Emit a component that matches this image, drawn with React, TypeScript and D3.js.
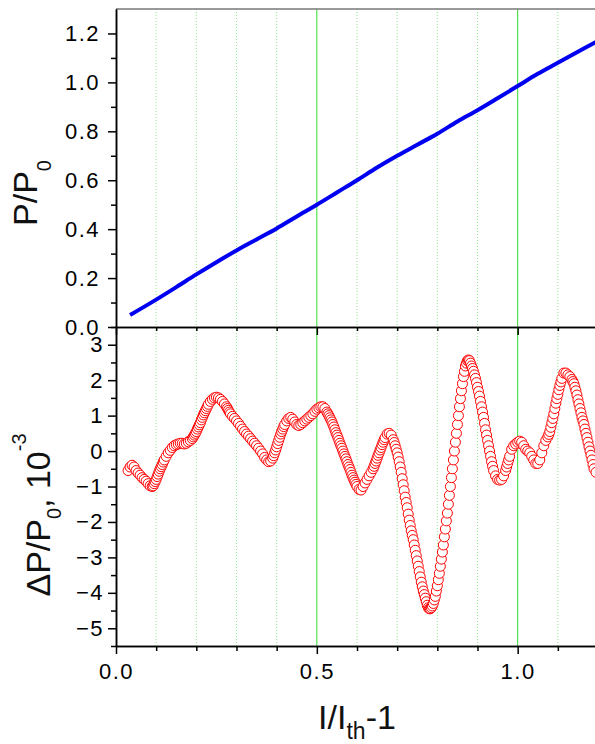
import React, { useEffect, useRef } from "react";
import * as d3 from "d3";

// top panel: P/P0 vs I/Ith-1
const powerX = [0.035, 0.1, 0.15, 0.2, 0.25, 0.3, 0.35, 0.4, 0.45, 0.5, 0.55, 0.6, 0.65, 0.7, 0.75, 0.8, 0.85, 0.9, 0.95, 1.0, 1.05, 1.1, 1.15, 1.2];
const powerY = [0.049, 0.112, 0.163, 0.215, 0.265, 0.313, 0.358, 0.403, 0.452, 0.5, 0.55, 0.6, 0.652, 0.7, 0.745, 0.79, 0.84, 0.886, 0.935, 0.985, 1.035, 1.08, 1.125, 1.17];

// bottom panel: dP/P0 in units of 1e-3, [I/Ith-1, value]
const deltaP: [number, number][] = [
  [0.030, -0.55], [0.035, -0.45], [0.040, -0.40], [0.045, -0.45], [0.050, -0.55], [0.055, -0.62],
  [0.060, -0.68], [0.065, -0.75], [0.070, -0.80], [0.075, -0.85], [0.080, -0.92], [0.085, -0.98],
  [0.090, -1.00], [0.0925, -0.98], [0.095, -0.92], [0.0975, -0.86], [0.100, -0.80], [0.1025, -0.72],
  [0.105, -0.65], [0.1075, -0.57], [0.110, -0.50], [0.1125, -0.44], [0.115, -0.38], [0.1175, -0.31],
  [0.120, -0.25], [0.125, -0.15], [0.130, -0.05], [0.135, 0.02], [0.140, 0.10], [0.145, 0.15],
  [0.150, 0.18], [0.155, 0.20], [0.160, 0.22], [0.165, 0.22], [0.170, 0.20], [0.175, 0.22],
  [0.180, 0.26], [0.185, 0.30], [0.190, 0.35], [0.1925, 0.40], [0.195, 0.45], [0.1975, 0.50],
  [0.200, 0.55], [0.2025, 0.62], [0.205, 0.68], [0.2075, 0.74], [0.210, 0.80], [0.2125, 0.88],
  [0.215, 0.95], [0.2175, 1.02], [0.220, 1.08], [0.2225, 1.14], [0.225, 1.20], [0.2275, 1.26],
  [0.230, 1.32], [0.235, 1.40], [0.240, 1.46], [0.245, 1.50], [0.250, 1.52], [0.255, 1.50],
  [0.260, 1.46], [0.265, 1.40], [0.270, 1.33], [0.275, 1.25], [0.2775, 1.20], [0.280, 1.15],
  [0.2825, 1.10], [0.285, 1.05], [0.290, 0.98], [0.295, 0.92], [0.300, 0.85], [0.305, 0.78],
  [0.310, 0.70], [0.315, 0.62], [0.320, 0.55], [0.325, 0.48], [0.330, 0.42], [0.335, 0.35],
  [0.340, 0.28], [0.345, 0.22], [0.350, 0.15], [0.355, 0.08], [0.360, 0.00], [0.365, -0.08],
  [0.370, -0.18], [0.375, -0.25], [0.380, -0.30], [0.385, -0.28], [0.390, -0.20], [0.3925, -0.13],
  [0.395, -0.05], [0.3975, 0.03], [0.400, 0.12], [0.4025, 0.21], [0.405, 0.30], [0.4075, 0.39],
  [0.410, 0.48], [0.4125, 0.55], [0.415, 0.62], [0.4175, 0.69], [0.420, 0.75], [0.425, 0.85],
  [0.430, 0.92], [0.435, 0.95], [0.440, 0.90], [0.445, 0.82], [0.450, 0.75], [0.455, 0.72],
  [0.460, 0.75], [0.465, 0.80], [0.470, 0.85], [0.475, 0.90], [0.480, 0.95], [0.485, 1.00],
  [0.490, 1.05], [0.495, 1.12], [0.500, 1.18], [0.505, 1.22], [0.510, 1.25], [0.515, 1.25],
  [0.520, 1.20], [0.525, 1.10], [0.5275, 1.05], [0.530, 1.00], [0.5325, 0.94], [0.535, 0.88],
  [0.5375, 0.82], [0.540, 0.75], [0.5425, 0.68], [0.545, 0.60], [0.5475, 0.52], [0.550, 0.45],
  [0.5525, 0.38], [0.555, 0.30], [0.5575, 0.22], [0.560, 0.15], [0.5625, 0.08], [0.565, 0.00],
  [0.5675, -0.08], [0.570, -0.15], [0.5725, -0.22], [0.575, -0.30], [0.5775, -0.38], [0.580, -0.45],
  [0.5825, -0.52], [0.585, -0.60], [0.5875, -0.68], [0.590, -0.75], [0.5925, -0.82], [0.595, -0.88],
  [0.5975, -0.94], [0.600, -1.00], [0.605, -1.08], [0.610, -1.10], [0.615, -1.00], [0.620, -0.90],
  [0.625, -0.80], [0.630, -0.70], [0.635, -0.60], [0.640, -0.50], [0.6425, -0.43], [0.645, -0.35],
  [0.6475, -0.28], [0.650, -0.20], [0.6525, -0.12], [0.655, -0.05], [0.6575, 0.03], [0.660, 0.10],
  [0.6625, 0.18], [0.665, 0.25], [0.6675, 0.32], [0.670, 0.38], [0.675, 0.48], [0.680, 0.50],
  [0.685, 0.45], [0.690, 0.32], [0.6925, 0.24], [0.695, 0.15], [0.6975, 0.05], [0.700, -0.05],
  [0.7025, -0.17], [0.705, -0.30], [0.7075, -0.45], [0.710, -0.60], [0.7125, -0.78], [0.715, -0.95],
  [0.7175, -1.12], [0.720, -1.30], [0.7225, -1.45], [0.725, -1.60], [0.7275, -1.78], [0.730, -1.95],
  [0.7325, -2.10], [0.735, -2.25], [0.7375, -2.38], [0.740, -2.50], [0.7425, -2.65], [0.745, -2.80],
  [0.7475, -2.95], [0.750, -3.10], [0.7525, -3.25], [0.755, -3.40], [0.7575, -3.55], [0.760, -3.70],
  [0.7625, -3.83], [0.765, -3.95], [0.7675, -4.05], [0.770, -4.15], [0.7725, -4.25], [0.775, -4.35],
  [0.7775, -4.42], [0.780, -4.45], [0.7825, -4.45], [0.785, -4.42], [0.7875, -4.37], [0.790, -4.30],
  [0.7925, -4.20], [0.795, -4.10], [0.7975, -3.95], [0.800, -3.80], [0.8025, -3.63], [0.805, -3.45],
  [0.8075, -3.25], [0.810, -3.05], [0.8125, -2.85], [0.815, -2.65], [0.8175, -2.42], [0.820, -2.20],
  [0.8225, -1.97], [0.825, -1.75], [0.8275, -1.50], [0.830, -1.25], [0.8325, -1.00], [0.835, -0.75],
  [0.8375, -0.50], [0.840, -0.25], [0.8425, 0.00], [0.845, 0.25], [0.8475, 0.50], [0.850, 0.75],
  [0.8525, 1.00], [0.855, 1.25], [0.8575, 1.48], [0.860, 1.70], [0.8625, 1.90], [0.865, 2.10],
  [0.8675, 2.25], [0.870, 2.40], [0.8725, 2.48], [0.875, 2.55], [0.8775, 2.57], [0.880, 2.55],
  [0.8825, 2.48], [0.885, 2.40], [0.8875, 2.33], [0.890, 2.25], [0.8925, 2.15], [0.895, 2.05],
  [0.8975, 1.93], [0.900, 1.80], [0.9025, 1.68], [0.905, 1.55], [0.9075, 1.40], [0.910, 1.25],
  [0.9125, 1.10], [0.915, 0.95], [0.9175, 0.78], [0.920, 0.60], [0.9225, 0.45], [0.925, 0.30],
  [0.9275, 0.15], [0.930, 0.00], [0.9325, -0.15], [0.935, -0.30], [0.9375, -0.43], [0.940, -0.55],
  [0.945, -0.70], [0.950, -0.80], [0.955, -0.82], [0.960, -0.80], [0.965, -0.70], [0.970, -0.55],
  [0.9725, -0.45], [0.975, -0.35], [0.9775, -0.25], [0.980, -0.15], [0.985, 0.05], [0.990, 0.15],
  [0.995, 0.20], [1.000, 0.25], [1.005, 0.28], [1.010, 0.25], [1.015, 0.15], [1.020, 0.05],
  [1.025, 0.00], [1.030, -0.05], [1.035, -0.15], [1.040, -0.25], [1.045, -0.35], [1.050, -0.35],
  [1.055, -0.25], [1.060, -0.05], [1.065, 0.15], [1.070, 0.30], [1.075, 0.40], [1.0775, 0.47],
  [1.080, 0.55], [1.0825, 0.67], [1.085, 0.80], [1.0875, 0.92], [1.090, 1.05], [1.0925, 1.20],
  [1.095, 1.35], [1.0975, 1.48], [1.100, 1.60], [1.1025, 1.73], [1.105, 1.85], [1.1075, 1.95],
  [1.110, 2.05], [1.115, 2.20], [1.120, 2.20], [1.125, 2.15], [1.130, 2.10], [1.135, 2.02],
  [1.1375, 1.96], [1.140, 1.90], [1.1425, 1.80], [1.145, 1.70], [1.1475, 1.58], [1.150, 1.45],
  [1.1525, 1.33], [1.155, 1.20], [1.1575, 1.08], [1.160, 0.95], [1.1625, 0.85], [1.165, 0.75],
  [1.1675, 0.62], [1.170, 0.50], [1.1725, 0.38], [1.175, 0.25], [1.1775, 0.12], [1.180, 0.00],
  [1.1825, -0.12], [1.185, -0.25], [1.1875, -0.38], [1.190, -0.50], [1.195, -0.60],
];

const xMajor = [0, 0.5, 1.0];
const xMinor = [0.1, 0.2, 0.3, 0.4, 0.6, 0.7, 0.8, 0.9, 1.1];
const topMajor = [0, 0.2, 0.4, 0.6, 0.8, 1.0, 1.2];
const topMinor = [0.1, 0.3, 0.5, 0.7, 0.9, 1.1];
const botMajor = [-5, -4, -3, -2, -1, 0, 1, 2, 3];
const botMinor = [-5.5, -4.5, -3.5, -2.5, -1.5, -0.5, 0.5, 1.5, 2.5, 3.5];

const FONT = "'Liberation Sans', Arial, sans-serif";

export default function App() {
  const plotRef = useRef<SVGGElement>(null);

  useEffect(() => {
    const root = d3.select(plotRef.current);
    root.selectAll("*").remove();

    const left = 116, right = 598, top = 9, mid = 327, bottom = 646;
    const x = d3.scaleLinear().domain([0, 1.2]).range([left, right]);
    const yTop = d3.scaleLinear().domain([0, 1.3]).range([mid, top]);
    const yBot = d3.scaleLinear().domain([-5.5, 3.5]).range([bottom, mid]);

    // vertical grid
    const grid = root.append("g");
    grid.selectAll("line.minor")
      .data(xMinor)
      .join("line")
      .attr("x1", (d) => x(d)).attr("x2", (d) => x(d))
      .attr("y1", top).attr("y2", bottom)
      .attr("stroke", "#8ee88e")
      .attr("stroke-width", 1)
      .attr("stroke-dasharray", "1,2");
    grid.selectAll("line.major")
      .data([0.5, 1.0])
      .join("line")
      .attr("x1", (d) => x(d)).attr("x2", (d) => x(d))
      .attr("y1", top).attr("y2", bottom)
      .attr("stroke", "#2ddc2d")
      .attr("stroke-width", 1);

    // top frame line
    root.append("line")
      .attr("x1", left).attr("x2", right)
      .attr("y1", top).attr("y2", top)
      .attr("stroke", "#777").attr("stroke-width", 1.5);

    // top curve
    const line = d3.line<number>()
      .x((_, i) => x(powerX[i]))
      .y((d) => yTop(d))
      .curve(d3.curveMonotoneX);
    root.append("path")
      .attr("d", line(powerY))
      .attr("fill", "none")
      .attr("stroke", "#0000f0")
      .attr("stroke-width", 4);

    // bottom circles
    root.append("g")
      .selectAll("circle")
      .data(deltaP)
      .join("circle")
      .attr("cx", (d) => x(d[0]))
      .attr("cy", (d) => yBot(d[1]))
      .attr("r", 5)
      .attr("fill", "white")
      .attr("stroke", "#ff0000")
      .attr("stroke-width", 1);

    const styleAxis = (g: any) => {
      g.select(".domain").attr("stroke", "#000").attr("stroke-width", 1.5);
      g.selectAll(".tick line").attr("stroke", "#000").attr("stroke-width", 1.5);
      g.selectAll(".tick text")
        .attr("fill", "#000")
        .attr("font-size", 22)
        .attr("letter-spacing", 1.5)
        .attr("font-family", FONT);
    };
    const blank = () => "";

    // bottom x axis
    styleAxis(root.append("g").attr("transform", `translate(0,${bottom})`)
      .call(d3.axisBottom(x).tickValues(xMinor).tickSize(5).tickSizeOuter(0).tickFormat(blank)));
    styleAxis(root.append("g").attr("transform", `translate(0,${bottom})`)
      .call(d3.axisBottom(x).tickValues(xMajor).tickSize(8).tickSizeOuter(0).tickPadding(9).tickFormat(d3.format(".1f"))));

    // middle axis (top panel's bottom)
    styleAxis(root.append("g").attr("transform", `translate(0,${mid})`)
      .call(d3.axisBottom(x).tickValues(xMinor).tickSize(4).tickSizeOuter(0).tickFormat(blank)));
    styleAxis(root.append("g").attr("transform", `translate(0,${mid})`)
      .call(d3.axisBottom(x).tickValues(xMajor).tickSize(8).tickSizeOuter(0).tickFormat(blank)));

    // top y axis
    styleAxis(root.append("g").attr("transform", `translate(${left},0)`)
      .call(d3.axisLeft(yTop).tickValues(topMinor).tickSize(5).tickSizeOuter(0).tickFormat(blank)));
    styleAxis(root.append("g").attr("transform", `translate(${left},0)`)
      .call(d3.axisLeft(yTop).tickValues(topMajor).tickSize(8).tickSizeOuter(0).tickPadding(8).tickFormat(d3.format(".1f"))));

    // bottom y axis
    styleAxis(root.append("g").attr("transform", `translate(${left},0)`)
      .call(d3.axisLeft(yBot).tickValues(botMinor).tickSize(5).tickSizeOuter(0).tickFormat(blank)));
    styleAxis(root.append("g").attr("transform", `translate(${left},0)`)
      .call(d3.axisLeft(yBot).tickValues(botMajor).tickSize(8).tickSizeOuter(0).tickPadding(4).tickFormat(d3.format("d"))));
  }, []);

  return (
    <svg
      width={595}
      height={744}
      style={{ position: "absolute", left: 0, top: 0, background: "white" }}
      fontFamily={FONT}
    >
      <g ref={plotRef} />
      <text x={357} y={729} textAnchor="middle" fontSize={34} fill="#111">
        I/I<tspan fontSize={23} dy={10}>th</tspan><tspan dy={-10}>-1</tspan>
      </text>
      <text transform="translate(37,193) rotate(-90)" textAnchor="middle" fontSize={34} fill="#111">
        P/P<tspan fontSize={20} dy={14}>0</tspan>
      </text>
      <text transform="translate(50,515) rotate(-90)" textAnchor="middle" fontSize={34} fill="#111">
        ΔP/P<tspan fontSize={20} dy={11}>0</tspan><tspan dy={-11}>, 10</tspan><tspan fontSize={20} dy={-24}>-3</tspan>
      </text>
    </svg>
  );
}
